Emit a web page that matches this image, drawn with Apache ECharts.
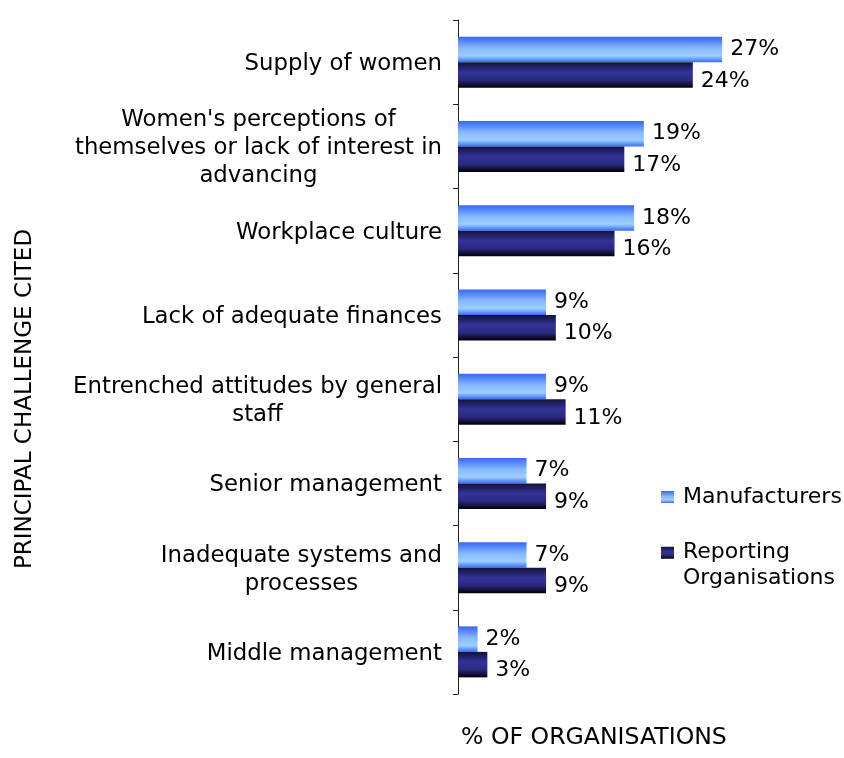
<!DOCTYPE html>
<html>
<head>
<meta charset="utf-8">
<script src="https://cdn.jsdelivr.net/npm/echarts@6/dist/echarts.min.js"></script>
<style>
  html, body { margin: 0; padding: 0; background: #fff; }
  #chart { width: 844px; height: 758px; }
</style>
</head>
<body>
<div id="chart"></div>
<script>
// Principal challenge cited, share of organisations (%)
const categories = [
  'Supply of women',
  "Women's perceptions of\nthemselves or lack of interest in\nadvancing",
  'Workplace culture',
  'Lack of adequate finances',
  'Entrenched attitudes by general\nstaff',
  'Senior management',
  'Inadequate systems and\nprocesses',
  'Middle management'
];
const manufacturers = [27, 19, 18, 9, 9, 7, 7, 2];
const reporting = [24, 17, 16, 10, 11, 9, 9, 3];
const seriesNames = ['Manufacturers', 'Reporting Organisations'];
const xTitle = '% OF ORGANISATIONS';
const yTitle = 'PRINCIPAL CHALLENGE CITED';

const FONT = '"DejaVu Sans", Verdana, sans-serif';
const FS = 22;        // bar values and legend
const FS_CAT = 22.8;  // category labels

const lightFill = new echarts.graphic.LinearGradient(0, 0, 0, 1, [
  { offset: 0, color: '#3666f2' },
  { offset: 0.45, color: '#86b8ff' },
  { offset: 0.75, color: '#9dcfff' },
  { offset: 1, color: '#3a6cf8' }
]);
const darkFill = new echarts.graphic.LinearGradient(0, 0, 0, 1, [
  { offset: 0, color: '#12123a' },
  { offset: 0.4, color: '#333399' },
  { offset: 0.7, color: '#2a2a80' },
  { offset: 1, color: '#000008' }
]);

const chart = echarts.init(document.getElementById('chart'), null, { renderer: 'canvas' });

const labelBase = {
  show: true,
  position: 'right',
  distance: 8,
  color: '#000',
  fontFamily: FONT,
  fontSize: FS,
  formatter: p => p.value + '%'
};

chart.setOption({
  animation: false,
  backgroundColor: '#fff',
  textStyle: { fontFamily: FONT },
  grid: { left: 458, top: 20, right: 92.5, bottom: 64, containLabel: false },
  xAxis: {
    type: 'value',
    min: 0,
    max: 30,
    axisLine: { show: false },
    axisTick: { show: false },
    axisLabel: { show: false },
    splitLine: { show: false }
  },
  yAxis: {
    type: 'category',
    data: categories,
    inverse: true,
    axisLine: { show: true, lineStyle: { color: '#222', width: 1 } },
    axisTick: { show: true, length: 5, interval: 0, lineStyle: { color: '#222' } },
    axisLabel: {
      interval: 0,
      margin: 16,
      padding: [4, 0, 0, 0],
      color: '#000',
      fontFamily: FONT,
      fontSize: FS_CAT,
      lineHeight: 28,
      // each line centred within the right-aligned label block
      formatter: v => v.split('\n').map(l => '{c|' + l + '}').join('\n'),
      rich: {
        c: { align: 'center', color: '#000', fontFamily: FONT, fontSize: FS_CAT, lineHeight: 28 }
      }
    },
    splitLine: { show: false }
  },
  legend: [
    {
      data: [seriesNames[0]],
      left: 661,
      top: 486,
      padding: 0,
      icon: 'rect',
      itemWidth: 13,
      itemHeight: 12,
      textStyle: { color: '#000', fontFamily: FONT, fontSize: FS, padding: [0, 0, 0, 4] }
    },
    {
      data: [seriesNames[1]],
      left: 661,
      top: 514.5,
      padding: 0,
      icon: 'rect',
      itemWidth: 13,
      itemHeight: 12,
      // blank first line keeps the swatch level with "Reporting"
      formatter: () => '\nReporting\nOrganisations',
      textStyle: { color: '#000', fontFamily: FONT, fontSize: FS, lineHeight: 25.5, padding: [0, 0, 0, 4] }
    }
  ],
  graphic: [
    {
      type: 'text',
      x: 25,
      y: 399,
      rotation: Math.PI / 2,
      style: { text: yTitle, fill: '#000', font: '23px ' + FONT, align: 'center', verticalAlign: 'middle' }
    },
    {
      type: 'text',
      x: 461,
      y: 738,
      style: { text: xTitle, fill: '#000', font: '23.6px ' + FONT, align: 'left', verticalAlign: 'middle' }
    }
  ],
  series: [
    {
      name: seriesNames[0],
      type: 'bar',
      data: manufacturers,
      barWidth: 25.5,
      barGap: '0%',
      itemStyle: { color: lightFill },
      label: Object.assign({}, labelBase, { offset: [0, 0] })
    },
    {
      name: seriesNames[1],
      type: 'bar',
      data: reporting,
      barWidth: 25.5,
      barGap: '0%',
      itemStyle: { color: darkFill },
      label: Object.assign({}, labelBase, { offset: [0, 6] })
    }
  ]
});
</script>
</body>
</html>
